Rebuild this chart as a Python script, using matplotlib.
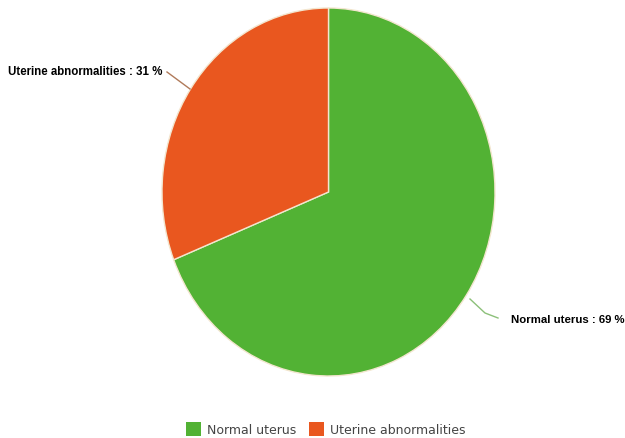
import matplotlib.pyplot as plt
from matplotlib.patches import Patch

# data
labels = ['Normal uterus', 'Uterine abnormalities']
values = [69, 31]
colors = ['#52b234', '#e9571f']

fig = plt.figure(figsize=(6.25, 4.39), dpi=100)
W, H = 625, 439
# pie box in pixels: left 162, right 495, top 9, bottom 377
ax = fig.add_axes([162 / W, (H - 377) / H, 333 / W, 368 / H])
ax.pie(values, colors=colors, startangle=90, counterclock=False,
       wedgeprops=dict(edgecolor='#f3e6cf', linewidth=1))
ax.set_aspect('auto')
ax.set_xlim(-1, 1)
ax.set_ylim(-1, 1)
ax.axis('off')

# labels with connector lines (figure pixel coords)
def px(x, y):
    return (x / W, 1 - y / H)

fig.text(*px(8, 72), f'{labels[1]} : {values[1]} %', fontsize=8.3,
         fontweight='bold', family='Liberation Sans', va='center', ha='left')
fig.add_artist(plt.Line2D([167 / W, 190 / W], [1 - 73 / H, 1 - 90 / H],
                          color='#b07a5a', lw=1))
fig.text(*px(511, 320), f'{labels[0]} : {values[0]} %', fontsize=8.2,
         fontweight='bold', family='Liberation Sans', va='center', ha='left')
fig.add_artist(plt.Line2D([470 / W, 485 / W, 498 / W],
                          [1 - 300 / H, 1 - 314 / H, 1 - 319 / H],
                          color='#8cc079', lw=1))

handles = [Patch(facecolor=c, edgecolor='none') for c in colors]
fig.legend(handles, labels, loc='center', bbox_to_anchor=(326 / W, 1 - 430 / H),
           ncol=2, frameon=False, fontsize=9, handlelength=1.2, handleheight=1.3,
           handletextpad=0.5, columnspacing=1.0, labelcolor='#444444')

fig.savefig('out.png', dpi=100)
